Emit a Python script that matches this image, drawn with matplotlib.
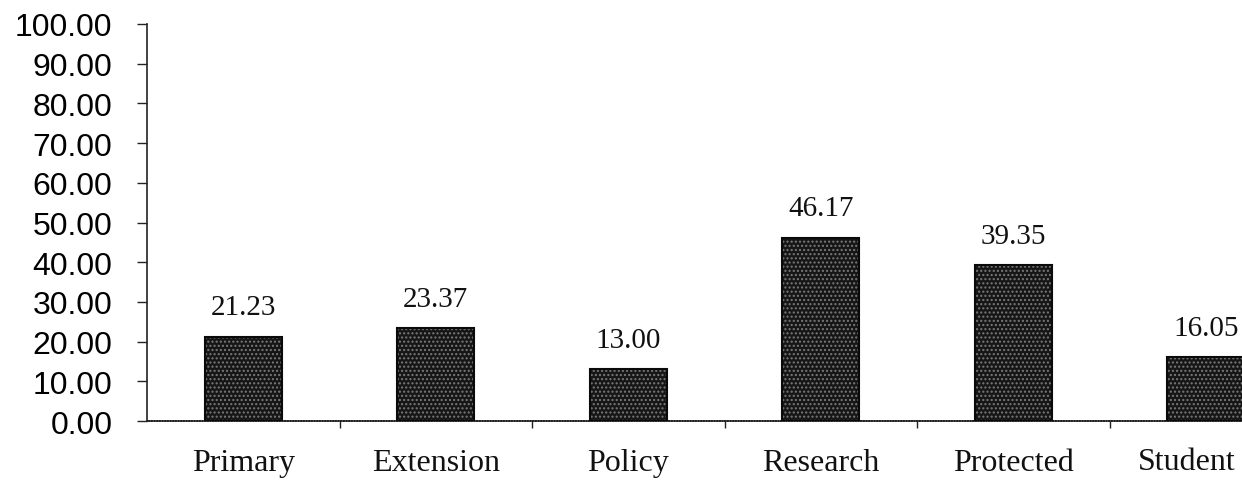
import matplotlib.pyplot as plt
import numpy as np

categories = ['Primary', 'Extension', 'Policy', 'Research', 'Protected', 'Student']
values = [21.23, 23.37, 13.00, 46.17, 39.35, 16.05]
value_labels = ['21.23', '23.37', '13.00', '46.17', '39.35', '16.05']
yticks = [0, 10, 20, 30, 40, 50, 60, 70, 80, 90, 100]

fig = plt.figure(figsize=(12.42, 4.89), dpi=100)
# axes runs past the right edge, the last bar is cut in the scan
ax = fig.add_axes([147 / 1242, 1 - 422 / 489, 1155 / 1242, 397 / 489])

x = np.arange(len(categories))
# stippled dark fill: hatch layer then outline layer
ax.bar(x, values, width=0.4, color='#161616', edgecolor='#7a7a7a', hatch='....', linewidth=0, zorder=2)
ax.bar(x, values, width=0.4, fill=False, edgecolor='#0a0a0a', linewidth=1.5, zorder=3)

for xi, v, lab in zip(x, values, value_labels):
    ax.annotate(lab, (xi, v), xytext=(0, 16), textcoords='offset points',
                ha='center', va='baseline', fontsize=21, family='Liberation Serif',
                color='#111111', annotation_clip=False)

ax.set_xlim(-0.5, 5.5)
ax.set_ylim(0, 100)
ax.set_yticks(yticks)
ax.set_yticklabels(['%.2f' % t for t in yticks], family='Liberation Sans', fontsize=23)
ax.tick_params(axis='y', direction='out', length=7, width=1, pad=18, color='#222222')

ax.set_xticks(x + 0.5, minor=False)
ax.set_xticklabels([])
ax.tick_params(axis='x', direction='out', length=5, width=1, color='#222222')
for i, c in enumerate(categories):
    if i == len(categories) - 1:
        # last label is pushed left to stay inside the page
        fig.text(0.995, 1 - 463 / 489, c, ha='right', va='center',
                 fontsize=23, family='Liberation Serif', color='#111111')
    else:
        ax.text(x[i], -0.104, c, transform=ax.get_xaxis_transform(), ha='center', va='center',
                fontsize=23, family='Liberation Serif', color='#111111')

for s in ['top', 'right']:
    ax.spines[s].set_visible(False)
for s in ['left', 'bottom']:
    ax.spines[s].set_linewidth(1.2)
    ax.spines[s].set_color('#222222')
ax.spines['bottom'].set_linestyle((0, (1, 0.6)))

fig.savefig('out.png', dpi=100)
